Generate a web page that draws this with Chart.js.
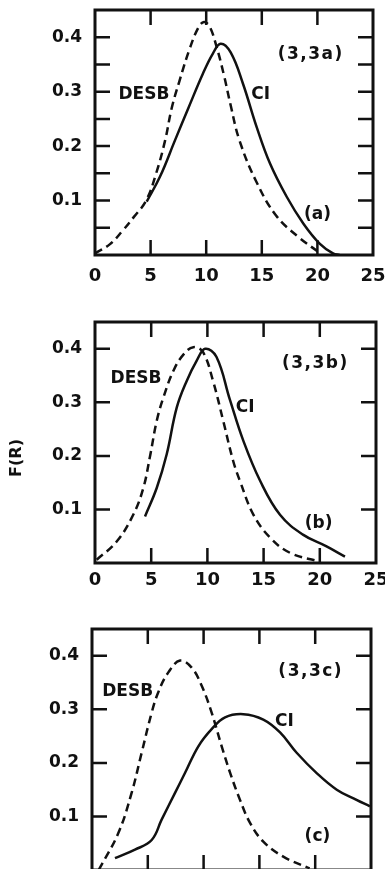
<!DOCTYPE html>
<html>
<head>
<meta charset="utf-8">
<script src="https://cdn.jsdelivr.net/npm/chart.js@4"></script>
<style>
  body { margin: 0; width: 385px; height: 869px; overflow: hidden; background: #fff; position: relative; }
  canvas { position: absolute; left: 0; }
  #fr { position: absolute; left: -14px; top: 448px; width: 60px; height: 20px; line-height: 20px;
        text-align: center; font: bold 16px "DejaVu Sans"; color: #111; transform: rotate(-90deg); }
</style>
</head>
<body>
<canvas id="ca" width="385" height="290" style="top:0px"></canvas>
<canvas id="cb" width="385" height="300" style="top:300px"></canvas>
<canvas id="cc" width="385" height="300" style="top:600px"></canvas>
<div id="fr">F(R)</div>
<script>
// axis ticks and labels
const xTickVals = [0, 5, 10, 15, 20, 25]
const yTickVals = [0.1, 0.2, 0.3, 0.4]
const xMarks = [5, 10, 15, 20]
const yMarksFine = [0.05, 0.1, 0.15, 0.2, 0.25, 0.3, 0.35, 0.4]
const yMarksCoarse = [0.1, 0.2, 0.3, 0.4]

// (3,3a)
const desbA = [[0,0.003],[1.35,0.02],[2.5,0.045],[3.5,0.07],[4.6,0.1],[5.5,0.15],[6.3,0.21],[6.9,0.27],
  [7.6,0.32],[8.5,0.378],[9.3,0.418],[9.8,0.428],[10.3,0.42],[10.9,0.385],[11.6,0.33],[12.2,0.275],
  [13.0,0.21],[14.5,0.135],[16.3,0.072],[18.3,0.033],[20.2,0.004]]
const ciA = [[4.65,0.098],[5.85,0.144],[7.2,0.211],[8.4,0.27],[9.7,0.333],[10.6,0.37],[11.3,0.388],
  [12.2,0.372],[13.3,0.315],[14.54,0.235],[15.74,0.168],[17.24,0.107],[18.73,0.058],[20.2,0.021],[21.4,0.003],[22,0]]

// (3,3b)
const desbB = [[0.15,0.006],[1.93,0.04],[3.4,0.09],[4.3,0.14],[4.9,0.2],[5.5,0.266],[6.1,0.31],[7.0,0.36],
  [7.9,0.39],[8.75,0.403],[9.6,0.394],[10.5,0.34],[11.4,0.266],[12.3,0.19],[12.9,0.153],[14.1,0.09],
  [15.6,0.047],[17.35,0.019],[19.9,0.003]]
const ciB = [[4.45,0.087],[5.49,0.14],[6.38,0.203],[7.27,0.29],[8.16,0.34],[9.05,0.378],[9.8,0.4],[10.8,0.385],
  [12.0,0.305],[13.2,0.228],[14.7,0.153],[16.46,0.09],[18.5,0.053],[20.6,0.031],[22.24,0.012]]

// (3,3c)
const desbC = [[0.6,0],[2.36,0.069],[3.55,0.144],[4.45,0.219],[5.35,0.294],[5.94,0.332],[6.84,0.369],[7.89,0.391],
  [8.93,0.378],[9.83,0.344],[10.72,0.294],[11.62,0.231],[12.4,0.18],[13.26,0.131],[14.16,0.088],[15.35,0.053],
  [17.14,0.025],[19.5,0.003]]
const ciC = [[2.06,0.022],[3.85,0.038],[5.35,0.056],[6.24,0.094],[7.44,0.144],[8.33,0.181],[9.53,0.231],[10.72,0.263],
  [11.92,0.285],[13.56,0.291],[15.35,0.281],[16.85,0.257],[18.34,0.219],[20.13,0.181],[21.93,0.15],[23.7,0.131],[24.9,0.119]]

// text in the plot: [text, x, y]
const notesA = [['DESB',4.4,0.294],['CI',14.9,0.294],['(3,3a)',19.4,0.369],['(a)',20.0,0.075]]
const notesB = [['DESB',3.65,0.344],['CI',13.35,0.29],['(3,3b)',19.6,0.373],['(b)',19.9,0.074]]
const notesC = [['DESB',3.2,0.333],['CI',17.25,0.277],['(3,3c)',19.6,0.37],['(c)',20.2,0.063]]

Chart.defaults.font.family = '"DejaVu Sans"'
Chart.defaults.color = '#111'
const ink = '#111'

function makeFrame(yMarks, notes){
  return {
    id: 'frame',
    afterDraw(chart){
      const {ctx, chartArea: a, scales: {x, y}} = chart
      ctx.save()
      ctx.strokeStyle = ink
      ctx.lineWidth = 3
      ctx.strokeRect(a.left, a.top, a.right - a.left, a.bottom - a.top)
      ctx.lineWidth = 2.5
      ctx.beginPath()
      xMarks.forEach(v => {
        const px = x.getPixelForValue(v)
        ctx.moveTo(px, a.bottom); ctx.lineTo(px, a.bottom - 15)
        ctx.moveTo(px, a.top); ctx.lineTo(px, a.top + 15)
      })
      yMarks.forEach(v => {
        const py = y.getPixelForValue(v)
        ctx.moveTo(a.left, py); ctx.lineTo(a.left + 15, py)
        ctx.moveTo(a.right, py); ctx.lineTo(a.right - 15, py)
      })
      ctx.stroke()
      ctx.fillStyle = ink
      ctx.font = 'bold 17px "DejaVu Sans"'
      ctx.textAlign = 'center'
      ctx.textBaseline = 'middle'
      notes.forEach(([t, vx, vy]) => {
        ctx.letterSpacing = t.startsWith('(3') ? '1.5px' : '0px'
        ctx.fillText(t, x.getPixelForValue(vx), y.getPixelForValue(vy))
      })
      ctx.restore()
    }
  }
}

function panel(id, desb, ci, yMarks, notes, box){
  new Chart(document.getElementById(id), {
    type: 'line',
    data: {
      datasets: [
        { label: 'DESB', data: desb.map(p => ({x: p[0], y: p[1]})), borderColor: ink, borderWidth: 2.5,
          borderDash: [8, 5], pointRadius: 0, tension: 0.4 },
        { label: 'CI', data: ci.map(p => ({x: p[0], y: p[1]})), borderColor: ink, borderWidth: 2.5,
          pointRadius: 0, tension: 0.4 }
      ]
    },
    options: {
      responsive: false,
      animation: false,
      layout: { padding: { top: box.top, right: box.right, left: 0, bottom: 0 } },
      plugins: { legend: { display: false }, tooltip: { enabled: false } },
      scales: {
        x: {
          type: 'linear', min: 0, max: 25,
          grid: { display: false, drawTicks: false }, border: { display: false },
          afterBuildTicks: s => { s.ticks = xTickVals.map(v => ({value: v})) },
          ticks: { font: { size: 18, weight: 'bold' }, padding: box.xpad, maxRotation: 0, color: ink },
          afterFit: s => { s.height = box.xh; s.paddingLeft = 0; s.paddingRight = 0 }
        },
        y: {
          type: 'linear', min: 0, max: 0.45,
          grid: { display: false, drawTicks: false }, border: { display: false },
          afterBuildTicks: s => { s.ticks = yTickVals.map(v => ({value: v})) },
          ticks: { font: { size: 17, weight: 'bold' }, padding: 13, color: ink, callback: v => v.toFixed(1) },
          afterFit: s => { s.width = box.left; s.paddingTop = 0; s.paddingBottom = 0 }
        }
      }
    },
    plugins: [makeFrame(yMarks, notes)]
  })
}

panel('ca', desbA, ciA, yMarksFine, notesA, { top: 10, right: 12, left: 95, xh: 35, xpad: 11 })
panel('cb', desbB, ciB, yMarksCoarse, notesB, { top: 22, right: 9, left: 95, xh: 37, xpad: 7 })
panel('cc', desbC, ciC, yMarksCoarse, notesC, { top: 29, right: 14, left: 92, xh: 30, xpad: 8 })
</script>
</body>
</html>
